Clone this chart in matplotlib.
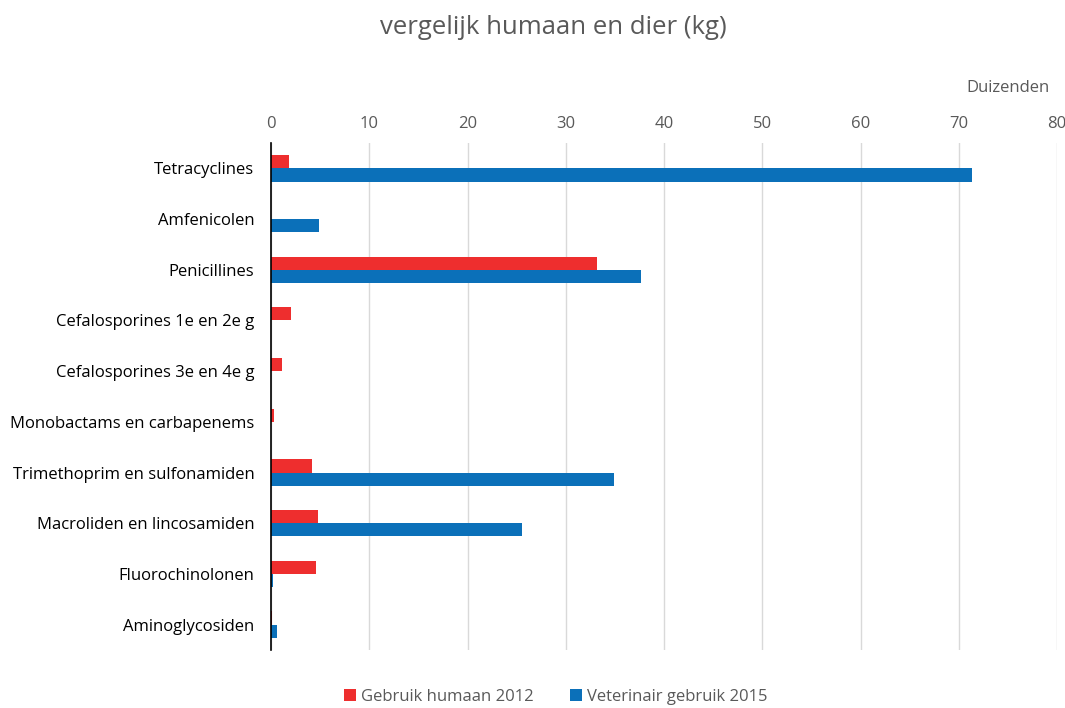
import numpy as np
import matplotlib.pyplot as plt

plt.rcParams['font.family'] = ['Open Sans', 'DejaVu Sans']

# Data (in thousands of kg)
categories = ['Tetracyclines', 'Amfenicolen', 'Penicillines', 'Cefalosporines 1e en 2e g',
              'Cefalosporines 3e en 4e g', 'Monobactams en carbapenems',
              'Trimethoprim en sulfonamiden', 'Macroliden en lincosamiden',
              'Fluorochinolonen', 'Aminoglycosiden']
humaan_2012 = [1.8, 0.0, 33.2, 2.05, 1.08, 0.27, 4.2, 4.75, 4.55, 0.1]
veterinair_2015 = [71.3, 4.85, 37.7, 0.0, 0.0, 0.0, 34.9, 25.5, 0.17, 0.58]

RED = '#EE2E2E'
BLUE = '#0B70B9'
TEXT = '#595959'

fig = plt.figure(figsize=(10.65, 7.08), dpi=100)
ax = fig.add_axes([271 / 1065, 1 - 650 / 708, (1057 - 271) / 1065, (650 - 143) / 708])

y = np.arange(len(categories))
h = 0.26
ax.barh(y - h / 2, humaan_2012, height=h, color=RED, label='Gebruik humaan 2012', zorder=3)
ax.barh(y + h / 2, veterinair_2015, height=h, color=BLUE, label='Veterinair gebruik 2015', zorder=3)

ax.set_ylim(len(categories) - 0.5, -0.5)
ax.set_xlim(0, 80)
ax.set_xticks(np.arange(0, 81, 10))
ax.set_yticks(y)
ax.set_yticklabels(categories)
ax.xaxis.tick_top()
ax.tick_params(axis='both', length=0, labelsize=12, colors=TEXT, pad=8)
ax.tick_params(axis='y', labelcolor='black', pad=12)
ax.grid(axis='x', color='#D9D9D9', linewidth=1, zorder=0)

for s in ['top', 'right', 'bottom']:
    ax.spines[s].set_visible(False)
ax.spines['left'].set_color('black')
ax.spines['left'].set_linewidth(1.2)
ax.spines['left'].set_zorder(4)

fig.text(1050 / 1065, 1 - 88 / 708, 'Duizenden', ha='right', va='center', fontsize=12, color=TEXT)
fig.suptitle('vergelijk humaan en dier (kg)', x=553 / 1065, y=1 - 28 / 708, va='center',
             fontsize=18.5, color=TEXT)

fig.legend(loc='center', bbox_to_anchor=(556 / 1065, 1 - 697 / 708), ncol=2, frameon=False,
           fontsize=12, labelcolor=TEXT, handlelength=0.7, handleheight=0.7,
           handletextpad=0.3, columnspacing=2.2)

fig.savefig('out.png', dpi=100)
